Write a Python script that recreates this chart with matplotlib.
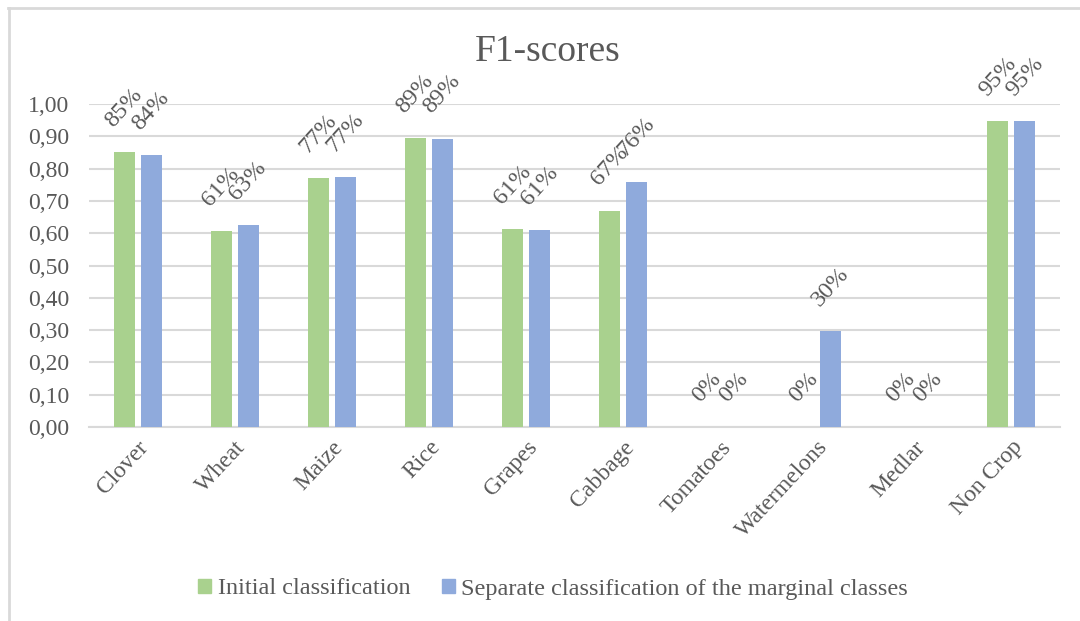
import numpy as np
import matplotlib.pyplot as plt
from matplotlib.lines import Line2D
from matplotlib.patches import Patch

# F1 scores per crop class
classes = ['Clover', 'Wheat', 'Maize', 'Rice', 'Grapes', 'Cabbage',
           'Tomatoes', 'Watermelons', 'Medlar', 'Non Crop']
initial = [0.85, 0.607, 0.77, 0.894, 0.612, 0.67, 0.0, 0.0, 0.0, 0.948]
separate = [0.842, 0.626, 0.774, 0.893, 0.61, 0.76, 0.0, 0.298, 0.0, 0.948]
series_names = ['Initial classification',
                'Separate classification of the marginal classes']

green = '#a9d18e'
blue = '#8faadc'
text_col = '#595959'
grid_col = '#d9d9d9'

plt.rcParams['font.family'] = ['Liberation Serif', 'DejaVu Serif']

fig = plt.figure(figsize=(10.8, 6.21), dpi=100)
ax = fig.add_axes([89 / 1080, 1 - 427 / 621, (1060 - 89) / 1080, (427 - 104) / 621])

x = np.arange(len(classes))
w = 0.216
gap = 0.062
b1 = ax.bar(x - (w + gap) / 2, initial, w, color=green, zorder=3)
b2 = ax.bar(x + (w + gap) / 2, separate, w, color=blue, zorder=3)

# rotated percentage labels over each bar
for bars, vals in [(b1, initial), (b2, separate)]:
    for rect, v in zip(bars, vals):
        ax.annotate(f'{v * 100:.0f}%',
                    (rect.get_x() + rect.get_width() / 2, v),
                    xytext=(0, 15), textcoords='offset points',
                    rotation=48, ha='center', va='bottom',
                    fontsize=17.5, color=text_col)

ax.set_xlim(-0.5, len(classes) - 0.5)
ax.set_ylim(0, 1.0)
ticks = np.arange(0, 1.01, 0.1)
ax.set_yticks(ticks)
ax.set_yticklabels([f'{t:.2f}'.replace('.', ',') for t in ticks])
ax.set_xticks(x)
ax.set_xticklabels(classes, rotation=47, ha='right', rotation_mode='anchor')
ax.tick_params(axis='both', length=0, labelsize=17, colors=text_col)
ax.tick_params(axis='y', pad=14)
ax.tick_params(axis='x', pad=7)

ax.grid(axis='y', color=grid_col, linewidth=1.5, zorder=0)
for s in ['top', 'right', 'left']:
    ax.spines[s].set_visible(False)
ax.spines['bottom'].set_color(grid_col)
ax.spines['bottom'].set_linewidth(1.5)

fig.text(548 / 1080, 1 - 52 / 621, 'F1-scores', ha='center', va='center',
         fontsize=27, color=text_col)

handles = [Patch(color=green), Patch(color=blue)]
fig.legend(handles, series_names, loc='center', bbox_to_anchor=(553 / 1080, 1 - 589 / 621),
           ncol=2, frameon=False, fontsize=17.5, labelcolor=text_col,
           handlelength=0.55, handleheight=0.55, handletextpad=0.25, columnspacing=1.3)

# outer chart border (top and left edges)
fig.add_artist(Line2D([8 / 1080, 1], [1 - 7.5 / 621, 1 - 7.5 / 621],
                      transform=fig.transFigure, color='#d9d9d9', linewidth=2))
fig.add_artist(Line2D([8.5 / 1080, 8.5 / 1080], [0, 1 - 7.5 / 621],
                      transform=fig.transFigure, color='#d9d9d9', linewidth=2))

fig.savefig('out.png', dpi=100)
